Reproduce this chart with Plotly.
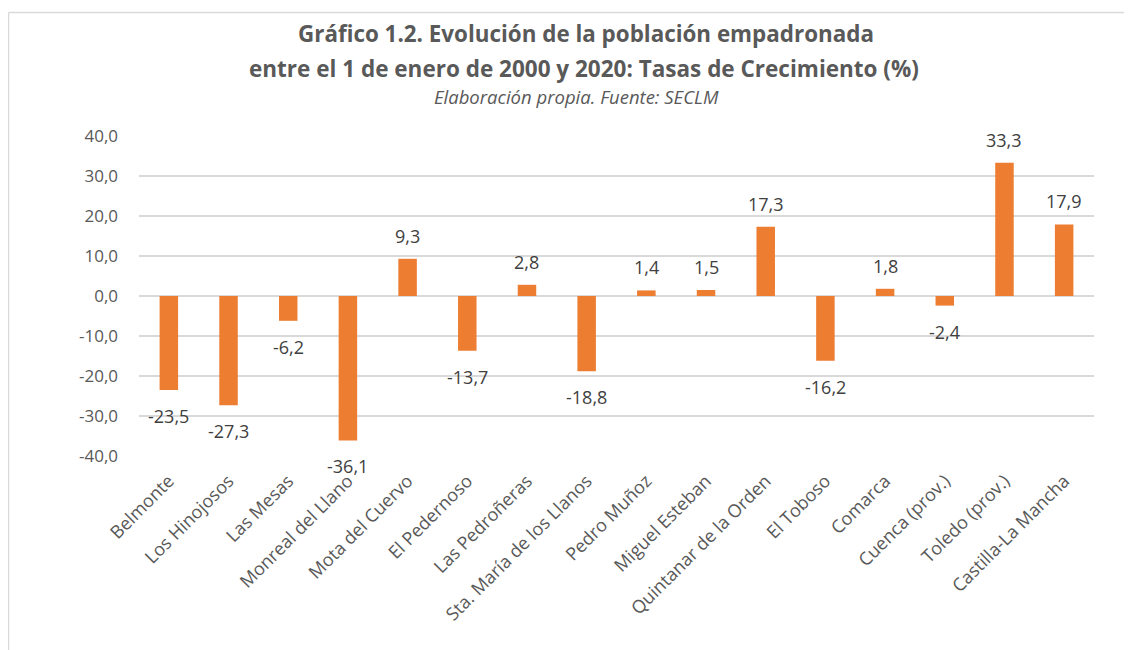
import plotly.graph_objects as go

categories = ["Belmonte", "Los Hinojosos", "Las Mesas", "Monreal del Llano", "Mota del Cuervo",
              "El Pedernoso", "Las Pedroñeras", "Sta. María de los Llanos", "Pedro Muñoz",
              "Miguel Esteban", "Quintanar de la Orden", "El Toboso", "Comarca",
              "Cuenca (prov.)", "Toledo (prov.)", "Castilla-La Mancha"]
values = [-23.5, -27.3, -6.2, -36.1, 9.3, -13.7, 2.8, -18.8, 1.4, 1.5, 17.3, -16.2, 1.8, -2.4, 33.3, 17.9]
tick_vals = [-40, -30, -20, -10, 0, 10, 20, 30, 40]
tick_text = ["-40,0", "-30,0", "-20,0", "-10,0", "0,0", "10,0", "20,0", "30,0", "40,0"]

FONT = "Open Sans"
W, H = 1132, 650
OFF = 8  # page body margin
L, R, T, B = 139 - OFF, 46, 136 - OFF, 650 - (456 - OFF)
pw, ph = W - L - R, H - T - B

def px_x(p):
    return (p - OFF - L) / pw

def px_y(p):
    return (H - B - (p - OFF)) / ph

fig = go.Figure()
fig.add_trace(go.Bar(
    x=categories, y=values, marker=dict(color="#ED7D31", line=dict(width=0)),
    width=0.31, showlegend=False, hoverinfo="x+y",
))

for c, v in zip(categories, values):
    fig.add_annotation(
        x=c, y=v, text=f"{v:.1f}".replace(".", ","), showarrow=False,
        yshift=23 if v >= 0 else -26, yanchor="middle",
        font=dict(family=FONT, size=18, color="#404040"),
    )

fig.add_annotation(x=px_x(586), y=px_y(33), xref="paper", yref="paper",
                   xanchor="center", yanchor="middle",
                   text="<b>Gráfico 1.2. Evolución de la población empadronada</b>",
                   showarrow=False, font=dict(family=FONT, size=22.4, color="#595959"))
fig.add_annotation(x=px_x(584), y=px_y(68), xref="paper", yref="paper",
                   xanchor="center", yanchor="middle",
                   text="<b>entre el 1 de enero de 2000 y 2020: Tasas de Crecimiento (%)</b>",
                   showarrow=False, font=dict(family=FONT, size=22.5, color="#595959"))
fig.add_annotation(x=px_x(576), y=px_y(96), xref="paper", yref="paper",
                   xanchor="center", yanchor="middle",
                   text="<i>Elaboración propia. Fuente: SECLM</i>",
                   showarrow=False, font=dict(family=FONT, size=18.5, color="#595959"))

# chart frame
fig.add_shape(type="line", xref="paper", yref="paper", x0=px_x(8.5), x1=px_x(1150),
              y0=px_y(12.5), y1=px_y(12.5), line=dict(color="#D9D9D9", width=1.5))
fig.add_shape(type="line", xref="paper", yref="paper", x0=px_x(8.5), x1=px_x(8.5),
              y0=px_y(12.5), y1=px_y(670), line=dict(color="#D9D9D9", width=1.5))

fig.update_layout(
    width=W, height=H, margin=dict(l=L, r=R, t=T, b=B),
    paper_bgcolor="white", plot_bgcolor="white",
    font=dict(family=FONT, color="#595959"),
)
fig.update_xaxes(tickangle=-45, tickfont=dict(family=FONT, size=18, color="#595959"),
                 showgrid=False, showline=False, ticks="", automargin=False,
                 ticklabelstandoff=10)
fig.update_yaxes(range=[-40, 40], tickvals=tick_vals, ticktext=tick_text,
                 tickfont=dict(family=FONT, size=17, color="#595959"),
                 showgrid=True, gridcolor="#D9D9D9", gridwidth=1.5, zeroline=False,
                 showline=False, ticks="", ticklabelstandoff=20, automargin=False)

fig.write_html("out.html")
